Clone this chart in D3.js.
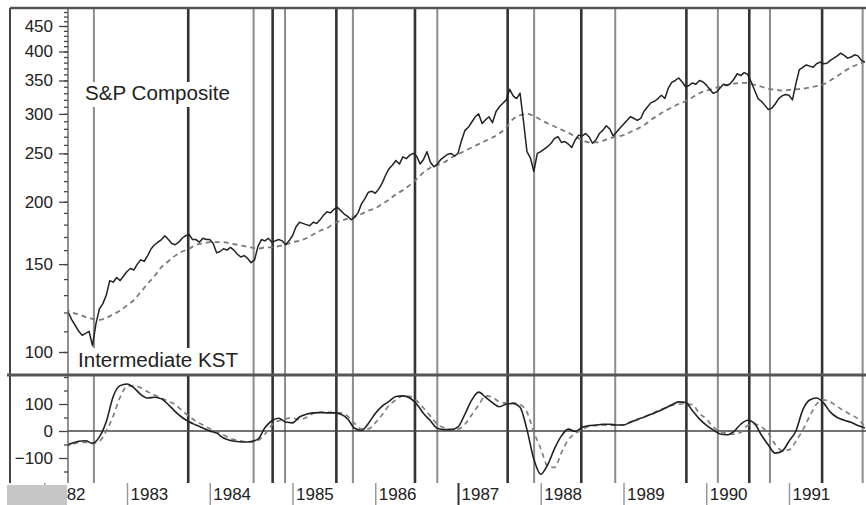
<!DOCTYPE html>
<html><head><meta charset="utf-8">
<script src="https://cdnjs.cloudflare.com/ajax/libs/d3/7.8.5/d3.min.js"></script>
<style>
html,body{margin:0;padding:0;background:#fff;}
svg{display:block;font-family:"Liberation Sans",Arial,sans-serif;}
</style></head><body>
<svg id="chart" width="866" height="505"></svg>
<script>
// S&P Composite, two closes a month starting mid-April 1982
var spFirst = 1982 + 7 / 24;
var spClose = [
  120,116,113,110,108,109,110,103,114,122,125,130,139,138,141,139,142,
  145,147,146,150,153,152,156,161,164,166,168,171,168,165,164,166,169,171,172,168,168,166,169,168,
  168,165,158,159,161,160,162,160,157,155,156,154,151,153,163,168,167,169,166,167,168,167,164,167,
  171,178,182,181,180,179,182,181,184,188,191,190,193,195,192,189,187,184,186,190,198,203,209,210,
  208,212,218,226,233,237,242,238,246,244,248,250,247,238,243,252,240,235,238,243,246,249,250,247,
  250,265,278,282,289,296,300,287,292,296,288,303,310,315,320,336,326,322,330,290,252,245,230,250,
  252,255,258,262,268,270,263,264,261,257,266,272,271,274,270,262,266,274,278,284,280,271,276,281,
  286,291,296,294,291,294,304,310,316,318,322,327,322,338,347,350,354,348,340,342,346,344,350,348,
  343,336,330,332,338,344,342,345,352,361,358,363,360,348,335,322,318,312,306,308,314,322,326,328,
  327,320,345,368,372,376,374,372,378,381,378,379,384,388,392,397,393,388,390,394,392,384,381
];

// monthly series from April 1982: price trend (dashed), KST and its average (dashed)
var monthlyFirst = 1982 + 3 / 12;
var spTrend = [
  122,120,119,117.5,116.5,116,117,119,121,
  124,127,132,137,142,148,152,156,159,161,164,165,
  166,166,166,165,164,163,162,161,162,162,163,164,
  166,167,169,172,175,177,181,183,185,187,189,192,
  194,198,202,207,211,216,222,229,234,237,240,245,
  249,253,257,261,265,269,274,282,293,298,300,297,
  292,287,283,279,275,270,266,263,263,265,268,270,
  272,276,280,285,292,298,304,309,314,318,324,330,
  334,337,340,343,345,346,346,343,340,337,335,334,
  335,336,337,339,341,344,350,357,365,372,377,382
];
var kst = [
  -55,-45,-38,-36,-46,-22,35,128,168,
  174,160,135,122,125,119,98,72,50,34,22,11,
  0,-8,-26,-35,-39,-41,-39,-30,12,38,47,33,
  30,52,62,67,68,67,67,62,45,10,2,28,
  65,92,110,128,130,122,100,65,38,10,5,5,
  15,62,115,144,125,105,90,100,102,88,5,-105,
  -160,-125,-65,-18,7,-2,14,20,22,25,25,22,
  22,33,42,52,62,72,84,97,108,106,75,45,
  22,4,-11,-14,-2,25,40,28,-15,-52,-82,-75,
  -38,0,78,115,122,104,70,50,40,32,20,11
];
var kstAvg = [
  -58,-50,-43,-42,-45,-38,0,55,125,
  165,168,160,145,133,122,110,98,75,55,36,22,
  8,-4,-15,-28,-34,-39,-41,-35,-12,22,38,45,
  48,42,50,65,70,70,68,67,55,28,8,8,
  30,60,95,115,130,128,112,85,55,25,12,6,
  7,25,60,96,130,125,108,104,104,98,70,-5,
  -65,-130,-135,-80,-32,-10,5,17,20,22,22,22,
  23,32,44,52,63,75,85,95,100,100,98,65,
  45,15,-2,-8,-12,-5,20,26,15,-8,-50,-72,
  -70,-38,4,55,100,115,108,90,75,60,45,15
];

// KST turning points (decimal years)
var darkSignals = [1983.74, 1984.76, 1985.53, 1986.48, 1987.60, 1988.49, 1989.76, 1990.52, 1991.40];
var lightSignals = [1982.60, 1984.53, 1984.91, 1985.73, 1986.75, 1987.92, 1988.90, 1990.14, 1990.77, 1991.89];

var yearTicks = [1982, 1983, 1984, 1985, 1986, 1987, 1988, 1989, 1990, 1991];
var priceTicks = [100, 150, 200, 250, 300, 350, 400, 450];
var kstTicks = [-100, 0, 100];
var kstMinor = [-150, -50, 50, 150, 200];

var svg = d3.select("#chart");
var plotL = 68, plotR = 866, frameL = 10, topY = 8, sepY = 375, botY = 483;

var x = d3.scaleLinear().domain([1983, 1991]).range([127, 789]);
var yP = d3.scaleLog().domain([100, 450]).range([352, 26]);
var yK = d3.scaleLinear().domain([-100, 100]).range([458, 404]);

var defs = svg.append("defs");
defs.append("clipPath").attr("id", "clipTop").append("rect")
  .attr("x", plotL).attr("y", topY).attr("width", plotR - plotL).attr("height", sepY - topY);
defs.append("clipPath").attr("id", "clipBot").append("rect")
  .attr("x", plotL).attr("y", sepY).attr("width", plotR - plotL).attr("height", botY - sepY);

svg.append("rect").attr("width", 866).attr("height", 505).attr("fill", "#fff");

// signal lines across both panels
svg.append("g").selectAll("line").data(lightSignals).enter().append("line")
  .attr("x1", function (d) { return x(d); }).attr("x2", function (d) { return x(d); })
  .attr("y1", topY).attr("y2", botY)
  .attr("stroke", "#8c8c8c").attr("stroke-width", 2);
svg.append("g").selectAll("line").data(darkSignals).enter().append("line")
  .attr("x1", function (d) { return x(d); }).attr("x2", function (d) { return x(d); })
  .attr("y1", topY).attr("y2", botY)
  .attr("stroke", "#333").attr("stroke-width", 2.6);

// panel captions on white boxes
svg.append("rect").attr("x", 82).attr("y", 82).attr("width", 152).attr("height", 25).attr("fill", "#fff");
svg.append("text").attr("x", 85).attr("y", 100).attr("font-size", 20).attr("fill", "#222")
  .attr("textLength", 145).attr("lengthAdjust", "spacingAndGlyphs").text("S&P Composite");
svg.append("rect").attr("x", 75).attr("y", 348).attr("width", 167).attr("height", 26).attr("fill", "#fff");
svg.append("text").attr("x", 78).attr("y", 367).attr("font-size", 20).attr("fill", "#222")
  .attr("textLength", 160).attr("lengthAdjust", "spacingAndGlyphs").text("Intermediate KST");

// upper panel
var upper = svg.append("g").attr("clip-path", "url(#clipTop)");
var priceLine = d3.line()
  .x(function (d, i) { return x(spFirst + i / 24); })
  .y(function (d) { return yP(d); });
var trendLine = d3.line()
  .x(function (d, i) { return x(monthlyFirst + i / 12); })
  .y(function (d) { return yP(d); })
  .curve(d3.curveMonotoneX);
upper.append("path").attr("d", trendLine(spTrend)).attr("fill", "none")
  .attr("stroke", "#7a7a7a").attr("stroke-width", 1.8).attr("stroke-dasharray", "5,4");
upper.append("path").attr("d", priceLine(spClose)).attr("fill", "none")
  .attr("stroke", "#222").attr("stroke-width", 1.5).attr("stroke-linejoin", "round");

// lower panel
var lower = svg.append("g").attr("clip-path", "url(#clipBot)");
lower.append("line").attr("x1", plotL).attr("x2", plotR).attr("y1", yK(0)).attr("y2", yK(0))
  .attr("stroke", "#444").attr("stroke-width", 1.5);
var kstLine = d3.line()
  .x(function (d, i) { return x(monthlyFirst + i / 12); })
  .y(function (d) { return yK(d); })
  .curve(d3.curveMonotoneX);
lower.append("path").attr("d", kstLine(kstAvg)).attr("fill", "none")
  .attr("stroke", "#808080").attr("stroke-width", 1.7).attr("stroke-dasharray", "5,4");
lower.append("path").attr("d", kstLine(kst)).attr("fill", "none")
  .attr("stroke", "#222").attr("stroke-width", 1.6);

// y axes
function styleAxis(g) {
  g.select(".domain").remove();
  g.selectAll("line").attr("stroke", "#444").attr("stroke-width", 1.3);
  g.selectAll("text").attr("font-size", 17).attr("fill", "#222")
    .attr("font-family", "'Liberation Sans', Arial, sans-serif");
}
svg.append("g").attr("transform", "translate(" + plotL + ",0)")
  .call(d3.axisLeft(yP).tickValues(d3.range(90, 490, 10)).tickSize(4).tickFormat(""))
  .call(styleAxis);
svg.append("g").attr("transform", "translate(" + plotL + ",0)")
  .call(d3.axisLeft(yP).tickValues(priceTicks).tickSize(9).tickPadding(6).tickFormat(d3.format("d")))
  .call(styleAxis);
svg.append("g").attr("transform", "translate(" + plotL + ",0)")
  .call(d3.axisLeft(yK).tickValues(kstMinor).tickSize(4).tickFormat(""))
  .call(styleAxis);
svg.append("g").attr("transform", "translate(" + plotL + ",0)")
  .call(d3.axisLeft(yK).tickValues(kstTicks).tickSize(9).tickPadding(6).tickFormat(d3.format("d")))
  .call(styleAxis);

// x axis row
var xa = svg.append("g").attr("transform", "translate(0," + botY + ")")
  .call(d3.axisBottom(x).tickValues(yearTicks).tickSize(22).tickFormat(d3.format("d")));
xa.select(".domain").remove();
xa.selectAll("line").attr("stroke", function (d) { return d === 1987 ? "#333" : "#999"; })
  .attr("stroke-width", function (d) { return d === 1987 ? 2 : 1.5; });
xa.selectAll("text").attr("y", 17).attr("dy", null).attr("x", 3)
  .attr("text-anchor", "start").attr("font-size", 17).attr("fill", "#222")
  .attr("font-family", "'Liberation Sans', Arial, sans-serif");
svg.append("rect").attr("x", 7).attr("y", 485).attr("width", 60).attr("height", 20).attr("fill", "#c6c6c6");

// frame
svg.append("line").attr("x1", plotL).attr("x2", plotL).attr("y1", topY).attr("y2", botY)
  .attr("stroke", "#555").attr("stroke-width", 1.3);
svg.append("line").attr("x1", frameL).attr("x2", frameL).attr("y1", topY).attr("y2", botY)
  .attr("stroke", "#444").attr("stroke-width", 2);
svg.append("line").attr("x1", frameL).attr("x2", plotR).attr("y1", topY).attr("y2", topY)
  .attr("stroke", "#555").attr("stroke-width", 2.5);
svg.append("line").attr("x1", 7).attr("x2", plotR).attr("y1", sepY).attr("y2", sepY)
  .attr("stroke", "#555").attr("stroke-width", 3);
</script>
</body></html>
